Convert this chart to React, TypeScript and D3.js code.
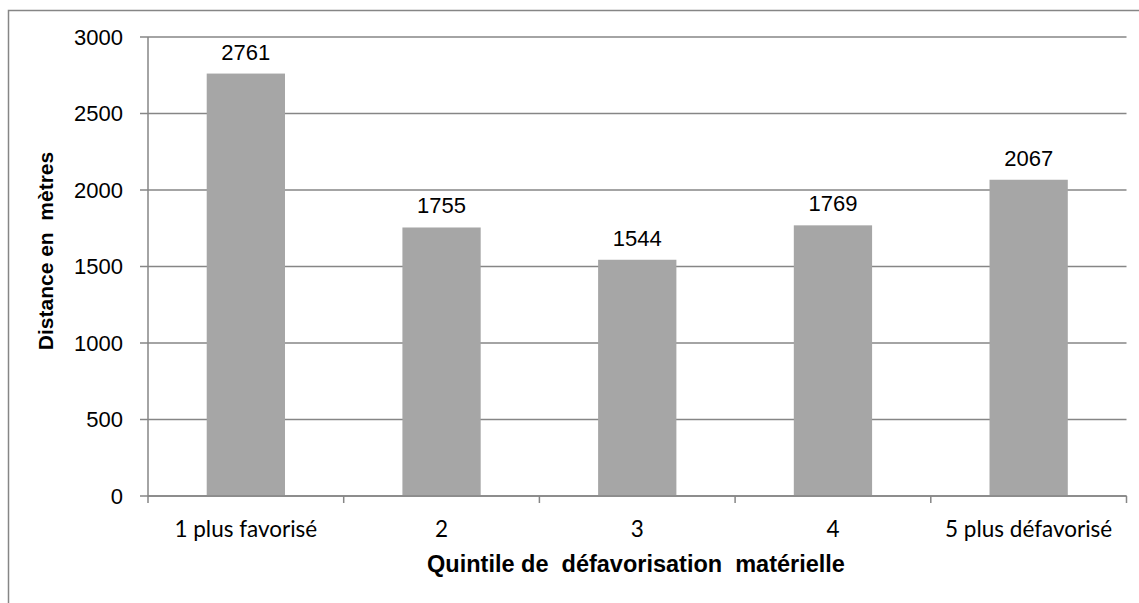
import * as d3 from 'd3';

// Data
const categories: string[] = ['1 plus favorisé', '2', '3', '4', '5 plus défavorisé'];
const distances: number[] = [2761, 1755, 1544, 1769, 2067];
const yTicks: number[] = [0, 500, 1000, 1500, 2000, 2500, 3000];

const W = 1139;
const H = 603;
const plot = { left: 148, right: 1126.5, top: 37, bottom: 496 };
const grid = '#868686';
const barFill = '#A6A6A6';

export default function App() {
    const x = d3.scaleBand<string>()
        .domain(categories)
        .range([plot.left, plot.right])
        .paddingInner(0.6)
        .paddingOuter(0.3);
    const y = d3.scaleLinear().domain([0, 3000]).range([plot.bottom, plot.top]);

    const step = x.step();
    // category boundaries for the x axis tick marks
    const bounds = d3.range(categories.length + 1).map(i => plot.left + i * step);

    return (
        <svg width={W} height={H} style={{ position: 'absolute', left: 0, top: 0, background: '#fff' }}>
            {/* outer frame */}
            <rect x={8.5} y={10.5} width={W + 20} height={H + 20} fill="#fff" stroke={grid} strokeWidth={1.5} />

            {/* gridlines + y ticks */}
            {yTicks.map(t => (
                <g key={t}>
                    <line x1={140} x2={plot.right} y1={y(t)} y2={y(t)} stroke={grid} strokeWidth={1.5} />
                    <text x={123} y={y(t)} dy="0.36em" textAnchor="end"
                        fontFamily="'Liberation Sans', Arial, sans-serif" fontSize={22} fill="#000">{t}</text>
                </g>
            ))}

            {/* bars */}
            {categories.map((c, i) => (
                <rect key={c} x={x(c)} y={y(distances[i])} width={x.bandwidth()}
                    height={y(0) - y(distances[i])} fill={barFill} />
            ))}

            {/* data labels */}
            {categories.map((c, i) => (
                <text key={c + '-v'} x={x(c)! + x.bandwidth() / 2} y={y(distances[i]) - 14} textAnchor="middle"
                    fontFamily="'Liberation Sans', Arial, sans-serif" fontSize={22} fill="#000">{distances[i]}</text>
            ))}

            {/* y axis line */}
            <line x1={plot.left} x2={plot.left} y1={plot.top} y2={plot.bottom} stroke={grid} strokeWidth={1.5} />
            {/* x axis line + boundary ticks */}
            <line x1={plot.left} x2={plot.right} y1={plot.bottom} y2={plot.bottom} stroke={grid} strokeWidth={1.5} />
            {bounds.map((b, i) => (
                <line key={i} x1={b} x2={b} y1={plot.bottom} y2={plot.bottom + 7} stroke={grid} strokeWidth={1.5} />
            ))}

            {/* category labels */}
            {categories.map(c => (
                <text key={c + '-l'} x={x(c)! + x.bandwidth() / 2} y={537} textAnchor="middle"
                    fontFamily="Lato, 'Open Sans', sans-serif" fontSize={22.5} fill="#000">{c}</text>
            ))}

            {/* axis titles */}
            <text x={636} y={572} textAnchor="middle"
                fontFamily="'Liberation Sans', Arial, sans-serif" fontSize={23.5} fontWeight="bold" fill="#000"
                style={{ whiteSpace: 'pre' }}>
                {'Quintile de  défavorisation  matérielle'}
            </text>
            <text transform={`translate(53, 251) rotate(-90)`} textAnchor="middle"
                fontFamily="'Liberation Sans', Arial, sans-serif" fontSize={21} fontWeight="bold" fill="#000"
                style={{ whiteSpace: 'pre' }}>
                {'Distance en  mètres'}
            </text>
        </svg>
    );
}
